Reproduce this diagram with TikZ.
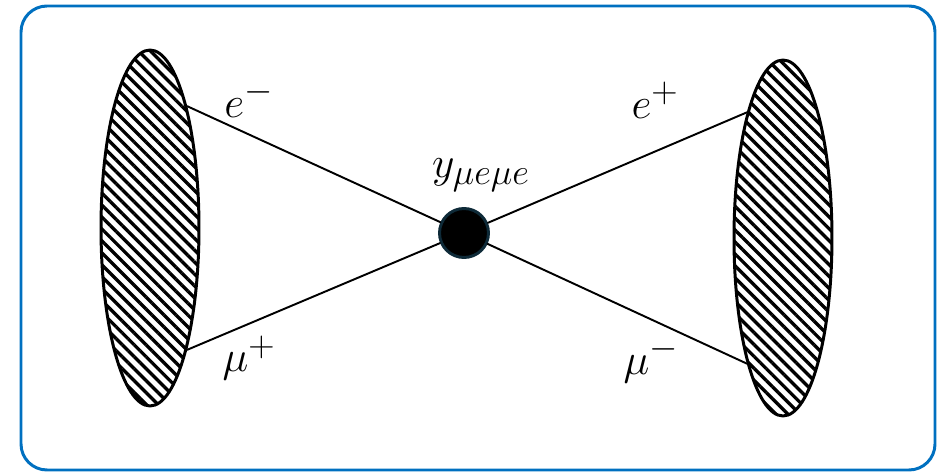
\documentclass[tikz,border=0pt]{standalone}
\usepackage{amsmath,amssymb}
\usetikzlibrary{shapes.geometric,patterns.meta}
\definecolor{frameblue}{RGB}{0,112,192}
\definecolor{vtxline}{RGB}{14,42,56}

\begin{document}
\begin{tikzpicture}[x=0.02cm, y=-0.02cm, line join=round, line cap=round,
	blob/.style={ellipse, draw, line width=1.7pt, minimum width=1.96cm, minimum height=7.12cm, inner sep=0pt,
		pattern={Lines[angle=-45, distance=4.8pt, line width=1.9pt]}},
	vtx/.style={circle, fill=black, draw=vtxline, line width=1.7pt, minimum size=0.98cm, inner sep=0pt},
	leg/.style={line width=1.1pt},
	lab/.style={font=\fontsize{30}{34}\selectfont}]
	\useasboundingbox (0,0) rectangle (938,473);
	\draw[frameblue, line width=1.7pt, rounded corners=0.52cm] (21,6) rectangle (935,470);
	% blobs and vertex
	\node[blob] (lb) at (150,228) {};
	\node[blob] (rb) at (783,238) {};
	\node[vtx] (v) at (464,233) {};
	\draw[leg] (lb.73.8) -- (v);
	\draw[leg] (lb.-73.8) -- (v);
	\draw[leg] (v) -- (rb.106);
	\draw[leg] (v) -- (rb.-106.4);
	% labels
	\node[lab] (em) at (249,99) {$e^-$};
	\node[lab] (mp) at (249,358) {$\mu^+$};
	\node[lab] (ep) at (655,100) {$e^+$};
	\node[lab] (mm) at (651,360) {$\mu^-$};
	\node[font=\fontsize{29}{33}\selectfont] (y) at (481,175) {$y_{\mu e\mu e}$};
\end{tikzpicture}
\end{document}
